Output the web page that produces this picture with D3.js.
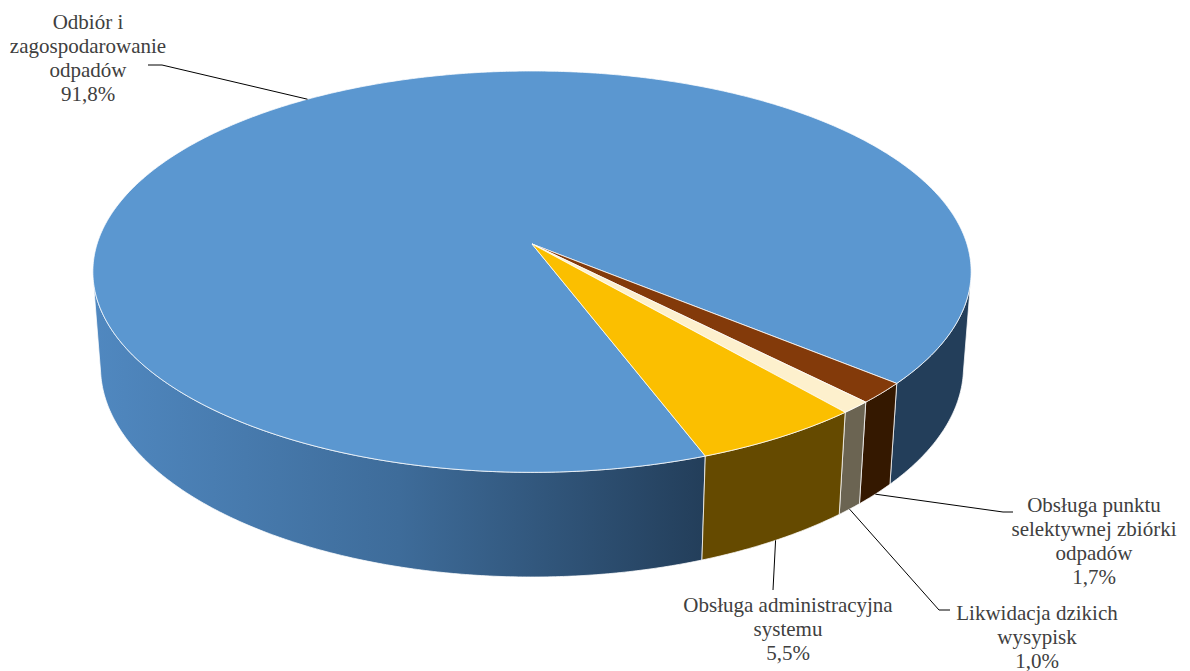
<!DOCTYPE html>
<html>
<head>
<meta charset="utf-8">
<script src="https://cdn.jsdelivr.net/npm/d3@7.9.0/dist/d3.min.js"></script>
<style>
  html, body { margin: 0; padding: 0; background: #fff; }
  svg { display: block; }
</style>
</head>
<body>
<svg id="chart" width="1190" height="671"></svg>
<script>
/* ──── data ──── */
const categories = [
  "Odbiór i zagospodarowanie odpadów",
  "Obsługa punktu selektywnej zbiórki odpadów",
  "Likwidacja dzikich wysypisk",
  "Obsługa administracyjna systemu"
];
const values = [91.8, 1.7, 1.0, 5.5];
const labelLines = [
  ["Odbiór i", "zagospodarowanie", "odpadów"],
  ["Obsługa punktu", "selektywnej zbiórki", "odpadów"],
  ["Likwidacja dzikich", "wysypisk"],
  ["Obsługa administracyjna", "systemu"]
];

/* ──── styles ──── */
const topColors  = ["#5B97D0", "#833A0A", "#FDF0CD", "#FBBF00"];
const wallColors = ["url(#blueWall)", "#341800", "#6B6452", "#654A00"];
const fontFamily = "Liberation Serif, Times New Roman, DejaVu Serif, serif";

/* label layout: text centre, first baseline, leader elbow points */
const labelPos = [
  { x: 88,   y: 29,  elbow: [[162, 65], [148, 65]], onTop: true },
  { x: 1094, y: 512, elbow: [[1003, 512], [1013, 512]] },
  { x: 1037, y: 620, elbow: [[939, 610], [950, 610]] },
  { x: 788,  y: 612, elbow: [[773, 590]] }
];

/* ──── perspective projection of the disc ──── */
const cam = { cx: 532, cy: 244, s: 2814, D: 6.47, sinP: 0.4526, cosP: 0.892, h: 0.2475 };

// a = d3 angle (0 at the far side, clockwise), r = radius (0..1), z = 0 top, -h bottom
function project(a, z, r = 1) {
  const X = r * Math.sin(a), Y = r * Math.cos(a);
  const depth = cam.D + Y * cam.cosP - z * cam.sinP;
  const up    = Y * cam.sinP + z * cam.cosP;
  return [cam.cx + cam.s * X / depth, cam.cy - cam.s * up / depth];
}

const pie = d3.pie().sort(null)
  .startAngle(159.7 * Math.PI / 180)
  .endAngle(159.7 * Math.PI / 180 + 2 * Math.PI);
const arcs = pie(values);

const line = d3.line();
const pctFmt = d3.formatLocale({ decimal: ",", thousands: " ", grouping: [3], currency: ["", ""] }).format(".1f");

function arcPoints(a0, a1, z) {
  const n = Math.max(2, Math.ceil(Math.abs(a1 - a0) * 120));
  return d3.range(n + 1).map(i => project(a0 + (a1 - a0) * i / n, z));
}

const svg = d3.select("#chart");
const defs = svg.append("defs");
const g = defs.append("linearGradient")
  .attr("id", "blueWall")
  .attr("gradientUnits", "userSpaceOnUse")
  .attr("x1", 92).attr("x2", 705).attr("y1", 0).attr("y2", 0);
g.append("stop").attr("offset", 0).attr("stop-color", "#5088C0");
g.append("stop").attr("offset", 0.5).attr("stop-color", "#3E6C9A");
g.append("stop").attr("offset", 1).attr("stop-color", "#233E5A");

/* ──── side walls (only the part facing the viewer) ──── */
const visLo = 99.5 * Math.PI / 180, visHi = 260.5 * Math.PI / 180;
const walls = [];
arcs.forEach((d, i) => {
  [-1, 0, 1].forEach(k => {
    const lo = Math.max(d.startAngle, visLo + k * 2 * Math.PI);
    const hi = Math.min(d.endAngle,   visHi + k * 2 * Math.PI);
    if (hi > lo) walls.push({ i, lo, hi });
  });
});

svg.append("g").selectAll("path")
  .data(walls)
  .join("path")
  .attr("d", w => line(arcPoints(w.lo, w.hi, 0).concat(arcPoints(w.hi, w.lo, -cam.h))) + "Z")
  .attr("fill", w => wallColors[w.i])
  .attr("stroke", "#fff")
  .attr("stroke-opacity", 0.75)
  .attr("stroke-width", 1)
  .attr("stroke-linejoin", "round");

/* ──── top faces ──── */
svg.append("g").selectAll("path")
  .data(arcs)
  .join("path")
  .attr("d", d => line([project(0, 0, 0)].concat(arcPoints(d.startAngle, d.endAngle, 0))) + "Z")
  .attr("fill", (d, i) => topColors[i])
  .attr("stroke", "#fff")
  .attr("stroke-opacity", 0.75)
  .attr("stroke-width", 1)
  .attr("stroke-linejoin", "round");

/* ──── leader lines ──── */
svg.append("g").selectAll("path")
  .data(arcs)
  .join("path")
  .attr("d", (d, i) => {
    const mid = (d.startAngle + d.endAngle) / 2;
    const anchor = project(mid, labelPos[i].onTop ? 0 : -cam.h);
    return line([anchor].concat(labelPos[i].elbow));
  })
  .attr("fill", "none")
  .attr("stroke", "#000")
  .attr("stroke-width", 1);

/* ──── labels ──── */
const labels = svg.append("g").selectAll("text")
  .data(arcs)
  .join("text")
  .style("font-family", fontFamily)
  .style("font-size", "21px")
  .attr("fill", "#404040")
  .attr("text-anchor", "middle")
  .attr("x", (d, i) => labelPos[i].x)
  .attr("y", (d, i) => labelPos[i].y);

labels.selectAll("tspan")
  .data((d, i) => labelLines[i].concat([pctFmt(values[i]) + "%"]))
  .join("tspan")
  .attr("x", function () { return this.parentNode.getAttribute("x"); })
  .attr("dy", (t, j) => j === 0 ? 0 : 24)
  .text(t => t);
</script>
</body>
</html>
